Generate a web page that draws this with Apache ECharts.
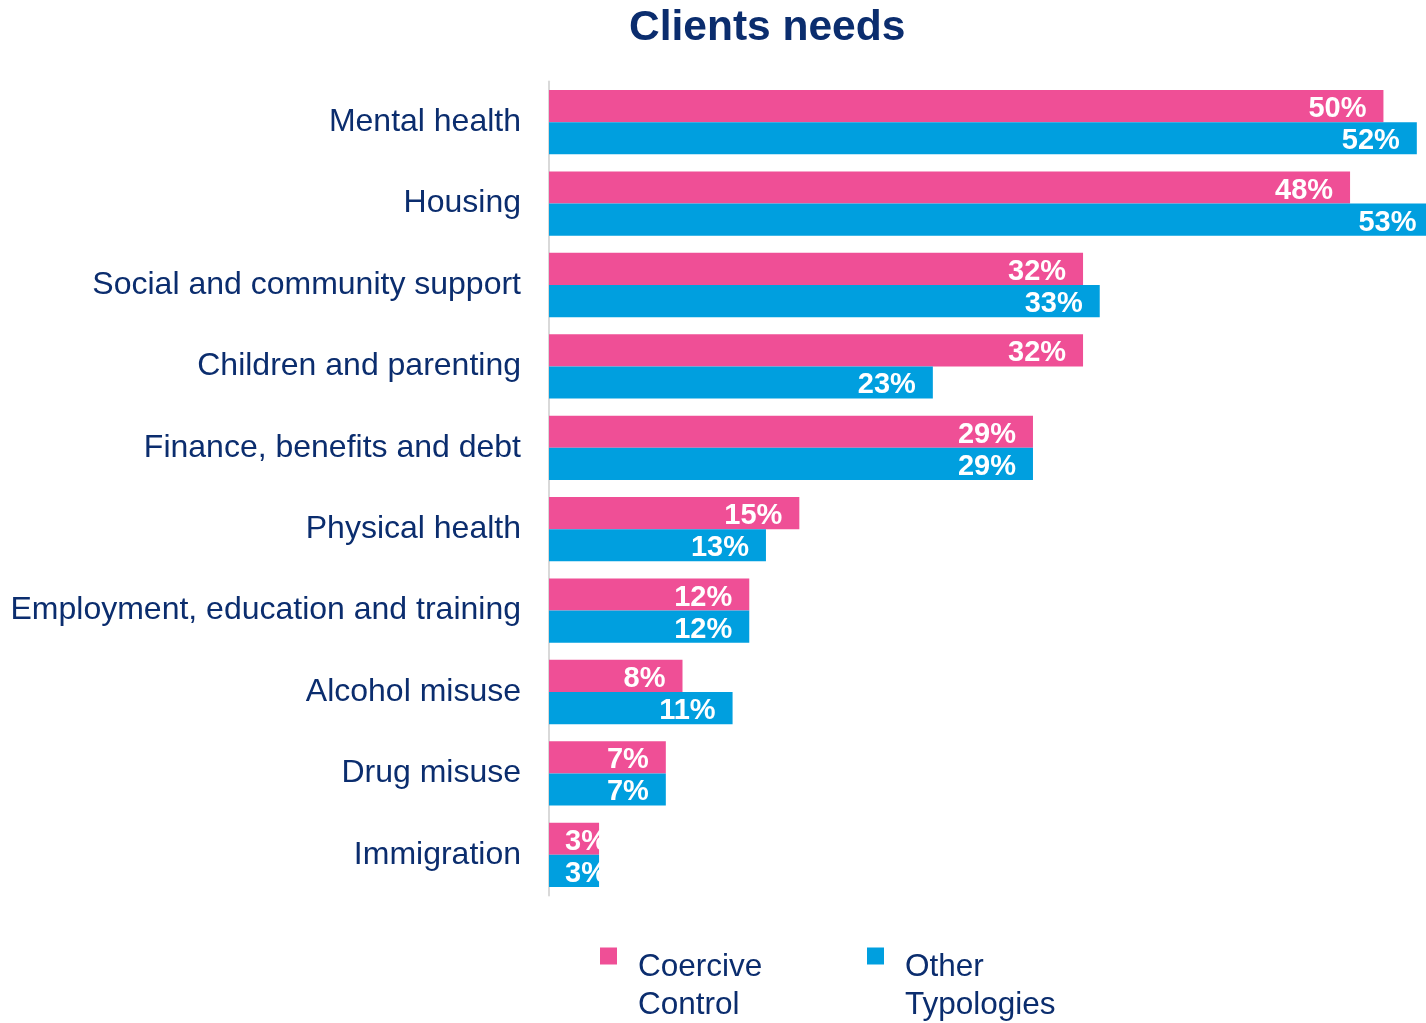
<!DOCTYPE html>
<html>
<head>
<meta charset="utf-8">
<script src="https://cdn.jsdelivr.net/npm/echarts@6/dist/echarts.min.js"></script>
<style>
  html, body { margin: 0; padding: 0; background: #fff; }
  #chart { width: 1426px; height: 1023px; }
</style>
</head>
<body>
<div id="chart"></div>
<script>
var categories = [
  'Mental health',
  'Housing',
  'Social and community support',
  'Children and parenting',
  'Finance, benefits and debt',
  'Physical health',
  'Employment, education and training',
  'Alcohol misuse',
  'Drug misuse',
  'Immigration'
];
var coerciveControl = [50, 48, 32, 32, 29, 15, 12, 8, 7, 3];
var otherTypologies = [52, 53, 33, 23, 29, 13, 12, 11, 7, 3];

var navy = '#0B2D6E';
var font = 'Liberation Sans, Arial, sans-serif';

// tiny bars: put the label at the start (overflow is white on white anyway)
function withLabels(values) {
  return values.map(function (v) {
    if (v < 5) {
      return { value: v, label: { position: 'insideLeft', distance: 16 } };
    }
    return v;
  });
}

// legend text wraps onto two lines, first line sits a bit below the square
function legendFor(name, left) {
  return {
    data: [name],
    left: left,
    top: 917,
    padding: 0,
    itemWidth: 17,
    itemHeight: 17,
    icon: 'rect',
    selectedMode: false,
    formatter: function (n) {
      var parts = n.split(' ');
      return '{s| }\n{a|' + parts[0] + '}\n{a|' + parts[1] + '}';
    },
    textStyle: {
      fontFamily: font,
      fontSize: 31.5,
      color: navy,
      padding: [0, 0, 0, 16],
      rich: {
        s: { fontSize: 2, lineHeight: 60 },
        a: { fontFamily: font, fontSize: 31.5, lineHeight: 38, color: navy }
      }
    }
  };
}

var barLabel = {
  show: true,
  position: 'insideRight',
  distance: 17,
  offset: [0, 3],
  formatter: '{c}%',
  fontFamily: font,
  fontSize: 29,
  fontWeight: 'bold',
  color: '#fff'
};

var chart = echarts.init(document.getElementById('chart'));
chart.setOption({
  backgroundColor: '#fff',
  animation: false,
  title: {
    text: 'Clients needs',
    left: 629,
    top: 7,
    padding: 0,
    textStyle: { fontFamily: font, fontSize: 42.5, fontWeight: 'bold', color: navy }
  },
  legend: [
    legendFor('Coercive Control', 600),
    legendFor('Other Typologies', 867)
  ],
  grid: { left: 549, top: 81.5, right: 0, height: 814, containLabel: false },
  xAxis: {
    type: 'value',
    min: 0,
    max: 52.55,
    show: false
  },
  yAxis: {
    type: 'category',
    inverse: true,
    data: categories,
    axisLine: { lineStyle: { color: '#D9D9D9', width: 2 } },
    axisTick: { show: false },
    axisLabel: { fontFamily: font, fontSize: 32, color: navy, margin: 28 }
  },
  series: [
    {
      name: 'Coercive Control',
      type: 'bar',
      clip: false,
      data: withLabels(coerciveControl),
      itemStyle: { color: '#EF4F96' },
      barGap: '0%',
      barCategoryGap: '21%',
      label: barLabel
    },
    {
      name: 'Other Typologies',
      type: 'bar',
      clip: false,
      data: withLabels(otherTypologies),
      itemStyle: { color: '#009FDF' },
      barGap: '0%',
      barCategoryGap: '21%',
      label: barLabel
    }
  ]
});
</script>
</body>
</html>
